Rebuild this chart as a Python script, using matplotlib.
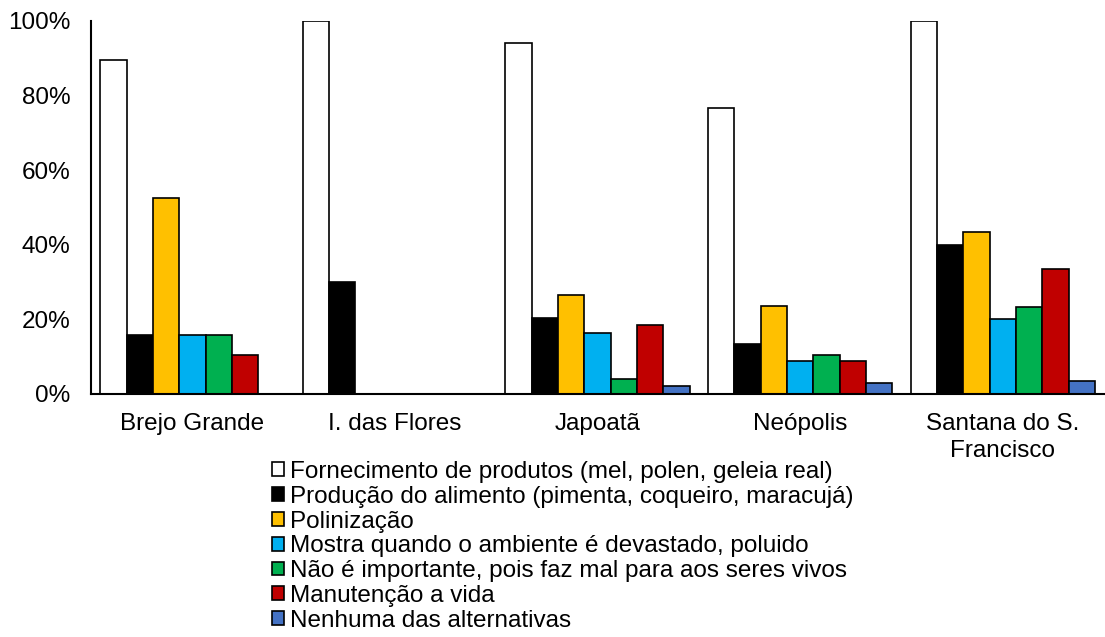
import matplotlib
matplotlib.use("Agg")
import matplotlib.pyplot as plt
import numpy as np

plt.rcParams['font.family'] = ['Liberation Sans', 'DejaVu Sans']

municipios = ["Brejo Grande", "I. das Flores", "Japoatã", "Neópolis",
              "Santana do S.\nFrancisco"]

series_labels = [
    "Fornecimento de produtos (mel, polen, geleia real)",
    "Produção do alimento (pimenta, coqueiro, maracujá)",
    "Polinização",
    "Mostra quando o ambiente é devastado, poluido",
    "Não é importante, pois faz mal para aos seres vivos",
    "Manutenção a vida",
    "Nenhuma das alternativas",
]

fornecimento = [89.5, 100.0, 94.1, 76.6, 100.0]
producao = [15.8, 30.0, 20.5, 13.5, 40.0]
polinizacao = [52.6, 0.0, 26.6, 23.6, 43.4]
mostra = [15.8, 0.0, 16.4, 8.9, 20.1]
nao_importante = [15.8, 0.0, 4.0, 10.4, 23.4]
manutencao = [10.5, 0.0, 18.5, 8.9, 33.4]
nenhuma = [0.0, 0.0, 2.2, 3.0, 3.4]

series = [fornecimento, producao, polinizacao, mostra, nao_importante,
          manutencao, nenhuma]
colors = ["#FFFFFF", "#000000", "#FFC000", "#00B0F0", "#00B050",
          "#C00000", "#4472C4"]

fig = plt.figure(figsize=(11.05, 6.37), dpi=100)
ax = fig.add_axes([0.0824, 0.3815, 0.9167, 0.5856])

n = len(series)
width = 0.91 / n
x = np.arange(len(municipios))
handles = []
for j, (vals, c, lab) in enumerate(zip(series, colors, series_labels)):
    pos = x + (j - (n - 1) / 2) * width
    b = ax.bar(pos, np.array(vals) / 100.0, width, color=c,
               edgecolor="black", linewidth=1.2, label=lab, zorder=2)
    handles.append(b)

ax.set_xlim(-0.5, len(municipios) - 0.5)
ax.set_ylim(0, 1.0)
ax.set_yticks(np.arange(0, 1.01, 0.2))
ax.set_yticklabels([f"{int(round(v*100))}%" for v in np.arange(0, 1.01, 0.2)])
ax.set_xticks(x)
ax.set_xticklabels(municipios, linespacing=1.25)
ax.tick_params(axis="both", length=0, labelsize=17.5)
ax.tick_params(axis="y", pad=15)
ax.tick_params(axis="x", pad=14)

for side in ["top", "right"]:
    ax.spines[side].set_visible(False)
for side in ["left", "bottom"]:
    ax.spines[side].set_linewidth(1.5)
    ax.spines[side].set_color("black")

fig.legend(handles=handles, labels=series_labels, loc="upper left",
           bbox_to_anchor=(272 / 1105, 1 - 461 / 637), frameon=False,
           fontsize=17.5, handlelength=0.5, handleheight=0.5,
           handletextpad=0.25, labelspacing=0.115, borderpad=0,
           borderaxespad=0)

fig.savefig("out.png", dpi=100)
